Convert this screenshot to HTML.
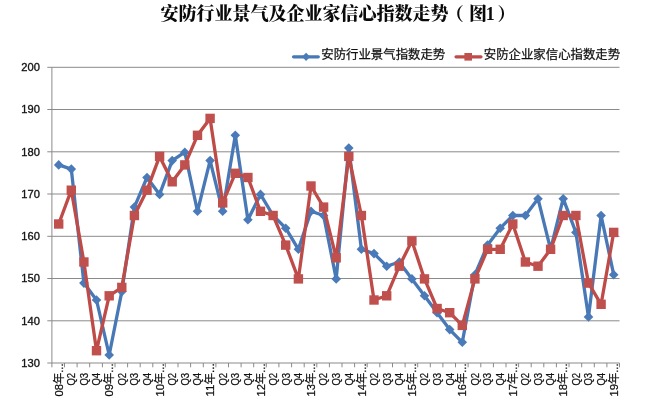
<!DOCTYPE html>
<html lang="zh"><head><meta charset="utf-8"><title>安防行业景气及企业家信心指数走势</title>
<style>
html,body{margin:0;padding:0;background:#fff;}
body{width:660px;height:411px;overflow:hidden;font-family:"Liberation Sans","Noto Sans CJK SC",sans-serif;}
svg{display:block}
.t{font-family:"Liberation Serif","Noto Serif CJK SC",serif;font-weight:900;font-size:18px;fill:#0a0a0a}
.lg{font-family:"Liberation Sans","Noto Sans CJK SC",sans-serif;font-size:12.4px;fill:#111;stroke:#111;stroke-width:0.25px}
.yl{font-family:"Liberation Sans",sans-serif;font-size:10.3px;fill:#111;stroke:#111;stroke-width:0.3px}
.xl{font-family:"Liberation Sans","Noto Sans CJK SC",sans-serif;font-size:11.5px;fill:#111;stroke:#111;stroke-width:0.25px}
</style></head><body>
<svg width="660" height="411" viewBox="0 0 660 411">
<rect width="660" height="411" fill="#fff"/>
<text class="t" x="160.6" y="19.7">安防行业景气及企业家信心指数走势<tspan dx="-2.8">（</tspan><tspan dx="5.1">图</tspan><tspan dx="-1.2">1</tspan><tspan dx="2.8">）</tspan></text>
<text class="yl" x="39.9" y="71.0" text-anchor="end" textLength="18.6" lengthAdjust="spacingAndGlyphs">200</text>
<text class="yl" x="39.9" y="113.2" text-anchor="end" textLength="18.6" lengthAdjust="spacingAndGlyphs">190</text>
<text class="yl" x="39.9" y="155.5" text-anchor="end" textLength="18.6" lengthAdjust="spacingAndGlyphs">180</text>
<text class="yl" x="39.9" y="197.7" text-anchor="end" textLength="18.6" lengthAdjust="spacingAndGlyphs">170</text>
<text class="yl" x="39.9" y="240.0" text-anchor="end" textLength="18.6" lengthAdjust="spacingAndGlyphs">160</text>
<text class="yl" x="39.9" y="282.2" text-anchor="end" textLength="18.6" lengthAdjust="spacingAndGlyphs">150</text>
<text class="yl" x="39.9" y="324.5" text-anchor="end" textLength="18.6" lengthAdjust="spacingAndGlyphs">140</text>
<text class="yl" x="39.9" y="366.7" text-anchor="end" textLength="18.6" lengthAdjust="spacingAndGlyphs">130</text>
<g stroke="#8a8a8a" stroke-width="1" fill="none"><line x1="47.3" y1="67.3" x2="619.5" y2="67.3"/><line x1="47.3" y1="109.5" x2="619.5" y2="109.5"/><line x1="47.3" y1="151.8" x2="619.5" y2="151.8"/><line x1="47.3" y1="194.0" x2="619.5" y2="194.0"/><line x1="47.3" y1="236.3" x2="619.5" y2="236.3"/><line x1="47.3" y1="278.5" x2="619.5" y2="278.5"/><line x1="47.3" y1="320.8" x2="619.5" y2="320.8"/><line x1="47.3" y1="363.0" x2="619.5" y2="363.0"/><line x1="51.9" y1="67.3" x2="51.9" y2="363.0"/><line x1="51.9" y1="363.0" x2="51.9" y2="367.3"/><line x1="64.5" y1="363.0" x2="64.5" y2="367.3"/><line x1="77.1" y1="363.0" x2="77.1" y2="367.3"/><line x1="89.7" y1="363.0" x2="89.7" y2="367.3"/><line x1="102.4" y1="363.0" x2="102.4" y2="367.3"/><line x1="115.0" y1="363.0" x2="115.0" y2="367.3"/><line x1="127.6" y1="363.0" x2="127.6" y2="367.3"/><line x1="140.2" y1="363.0" x2="140.2" y2="367.3"/><line x1="152.8" y1="363.0" x2="152.8" y2="367.3"/><line x1="165.4" y1="363.0" x2="165.4" y2="367.3"/><line x1="178.0" y1="363.0" x2="178.0" y2="367.3"/><line x1="190.6" y1="363.0" x2="190.6" y2="367.3"/><line x1="203.3" y1="363.0" x2="203.3" y2="367.3"/><line x1="215.9" y1="363.0" x2="215.9" y2="367.3"/><line x1="228.5" y1="363.0" x2="228.5" y2="367.3"/><line x1="241.1" y1="363.0" x2="241.1" y2="367.3"/><line x1="253.7" y1="363.0" x2="253.7" y2="367.3"/><line x1="266.3" y1="363.0" x2="266.3" y2="367.3"/><line x1="278.9" y1="363.0" x2="278.9" y2="367.3"/><line x1="291.6" y1="363.0" x2="291.6" y2="367.3"/><line x1="304.2" y1="363.0" x2="304.2" y2="367.3"/><line x1="316.8" y1="363.0" x2="316.8" y2="367.3"/><line x1="329.4" y1="363.0" x2="329.4" y2="367.3"/><line x1="342.0" y1="363.0" x2="342.0" y2="367.3"/><line x1="354.6" y1="363.0" x2="354.6" y2="367.3"/><line x1="367.2" y1="363.0" x2="367.2" y2="367.3"/><line x1="379.8" y1="363.0" x2="379.8" y2="367.3"/><line x1="392.5" y1="363.0" x2="392.5" y2="367.3"/><line x1="405.1" y1="363.0" x2="405.1" y2="367.3"/><line x1="417.7" y1="363.0" x2="417.7" y2="367.3"/><line x1="430.3" y1="363.0" x2="430.3" y2="367.3"/><line x1="442.9" y1="363.0" x2="442.9" y2="367.3"/><line x1="455.5" y1="363.0" x2="455.5" y2="367.3"/><line x1="468.1" y1="363.0" x2="468.1" y2="367.3"/><line x1="480.8" y1="363.0" x2="480.8" y2="367.3"/><line x1="493.4" y1="363.0" x2="493.4" y2="367.3"/><line x1="506.0" y1="363.0" x2="506.0" y2="367.3"/><line x1="518.6" y1="363.0" x2="518.6" y2="367.3"/><line x1="531.2" y1="363.0" x2="531.2" y2="367.3"/><line x1="543.8" y1="363.0" x2="543.8" y2="367.3"/><line x1="556.4" y1="363.0" x2="556.4" y2="367.3"/><line x1="569.0" y1="363.0" x2="569.0" y2="367.3"/><line x1="581.7" y1="363.0" x2="581.7" y2="367.3"/><line x1="594.3" y1="363.0" x2="594.3" y2="367.3"/><line x1="606.9" y1="363.0" x2="606.9" y2="367.3"/><line x1="619.5" y1="363.0" x2="619.5" y2="367.3"/></g>
<text class="xl" transform="translate(62.8,363.4) rotate(-90)" text-anchor="end" textLength="33.1" lengthAdjust="spacingAndGlyphs">08年...</text>
<text class="xl" transform="translate(75.1,372.8) rotate(-90)" text-anchor="end" textLength="12.8" lengthAdjust="spacingAndGlyphs">Q2</text>
<text class="xl" transform="translate(87.7,372.8) rotate(-90)" text-anchor="end" textLength="12.8" lengthAdjust="spacingAndGlyphs">Q3</text>
<text class="xl" transform="translate(100.3,372.8) rotate(-90)" text-anchor="end" textLength="12.8" lengthAdjust="spacingAndGlyphs">Q4</text>
<text class="xl" transform="translate(113.3,363.4) rotate(-90)" text-anchor="end" textLength="33.1" lengthAdjust="spacingAndGlyphs">09年...</text>
<text class="xl" transform="translate(125.6,372.8) rotate(-90)" text-anchor="end" textLength="12.8" lengthAdjust="spacingAndGlyphs">Q2</text>
<text class="xl" transform="translate(138.2,372.8) rotate(-90)" text-anchor="end" textLength="12.8" lengthAdjust="spacingAndGlyphs">Q3</text>
<text class="xl" transform="translate(150.8,372.8) rotate(-90)" text-anchor="end" textLength="12.8" lengthAdjust="spacingAndGlyphs">Q4</text>
<text class="xl" transform="translate(163.7,363.4) rotate(-90)" text-anchor="end" textLength="33.1" lengthAdjust="spacingAndGlyphs">10年...</text>
<text class="xl" transform="translate(176.0,372.8) rotate(-90)" text-anchor="end" textLength="12.8" lengthAdjust="spacingAndGlyphs">Q2</text>
<text class="xl" transform="translate(188.6,372.8) rotate(-90)" text-anchor="end" textLength="12.8" lengthAdjust="spacingAndGlyphs">Q3</text>
<text class="xl" transform="translate(201.3,372.8) rotate(-90)" text-anchor="end" textLength="12.8" lengthAdjust="spacingAndGlyphs">Q4</text>
<text class="xl" transform="translate(214.2,363.4) rotate(-90)" text-anchor="end" textLength="33.1" lengthAdjust="spacingAndGlyphs">11年...</text>
<text class="xl" transform="translate(226.5,372.8) rotate(-90)" text-anchor="end" textLength="12.8" lengthAdjust="spacingAndGlyphs">Q2</text>
<text class="xl" transform="translate(239.1,372.8) rotate(-90)" text-anchor="end" textLength="12.8" lengthAdjust="spacingAndGlyphs">Q3</text>
<text class="xl" transform="translate(251.7,372.8) rotate(-90)" text-anchor="end" textLength="12.8" lengthAdjust="spacingAndGlyphs">Q4</text>
<text class="xl" transform="translate(264.6,363.4) rotate(-90)" text-anchor="end" textLength="33.1" lengthAdjust="spacingAndGlyphs">12年...</text>
<text class="xl" transform="translate(276.9,372.8) rotate(-90)" text-anchor="end" textLength="12.8" lengthAdjust="spacingAndGlyphs">Q2</text>
<text class="xl" transform="translate(289.5,372.8) rotate(-90)" text-anchor="end" textLength="12.8" lengthAdjust="spacingAndGlyphs">Q3</text>
<text class="xl" transform="translate(302.2,372.8) rotate(-90)" text-anchor="end" textLength="12.8" lengthAdjust="spacingAndGlyphs">Q4</text>
<text class="xl" transform="translate(315.1,363.4) rotate(-90)" text-anchor="end" textLength="33.1" lengthAdjust="spacingAndGlyphs">13年...</text>
<text class="xl" transform="translate(327.4,372.8) rotate(-90)" text-anchor="end" textLength="12.8" lengthAdjust="spacingAndGlyphs">Q2</text>
<text class="xl" transform="translate(340.0,372.8) rotate(-90)" text-anchor="end" textLength="12.8" lengthAdjust="spacingAndGlyphs">Q3</text>
<text class="xl" transform="translate(352.6,372.8) rotate(-90)" text-anchor="end" textLength="12.8" lengthAdjust="spacingAndGlyphs">Q4</text>
<text class="xl" transform="translate(365.5,363.4) rotate(-90)" text-anchor="end" textLength="33.1" lengthAdjust="spacingAndGlyphs">14年...</text>
<text class="xl" transform="translate(377.8,372.8) rotate(-90)" text-anchor="end" textLength="12.8" lengthAdjust="spacingAndGlyphs">Q2</text>
<text class="xl" transform="translate(390.5,372.8) rotate(-90)" text-anchor="end" textLength="12.8" lengthAdjust="spacingAndGlyphs">Q3</text>
<text class="xl" transform="translate(403.1,372.8) rotate(-90)" text-anchor="end" textLength="12.8" lengthAdjust="spacingAndGlyphs">Q4</text>
<text class="xl" transform="translate(416.0,363.4) rotate(-90)" text-anchor="end" textLength="33.1" lengthAdjust="spacingAndGlyphs">15年...</text>
<text class="xl" transform="translate(428.3,372.8) rotate(-90)" text-anchor="end" textLength="12.8" lengthAdjust="spacingAndGlyphs">Q2</text>
<text class="xl" transform="translate(440.9,372.8) rotate(-90)" text-anchor="end" textLength="12.8" lengthAdjust="spacingAndGlyphs">Q3</text>
<text class="xl" transform="translate(453.5,372.8) rotate(-90)" text-anchor="end" textLength="12.8" lengthAdjust="spacingAndGlyphs">Q4</text>
<text class="xl" transform="translate(466.4,363.4) rotate(-90)" text-anchor="end" textLength="33.1" lengthAdjust="spacingAndGlyphs">16年...</text>
<text class="xl" transform="translate(478.7,372.8) rotate(-90)" text-anchor="end" textLength="12.8" lengthAdjust="spacingAndGlyphs">Q2</text>
<text class="xl" transform="translate(491.4,372.8) rotate(-90)" text-anchor="end" textLength="12.8" lengthAdjust="spacingAndGlyphs">Q3</text>
<text class="xl" transform="translate(504.0,372.8) rotate(-90)" text-anchor="end" textLength="12.8" lengthAdjust="spacingAndGlyphs">Q4</text>
<text class="xl" transform="translate(516.9,363.4) rotate(-90)" text-anchor="end" textLength="33.1" lengthAdjust="spacingAndGlyphs">17年...</text>
<text class="xl" transform="translate(529.2,372.8) rotate(-90)" text-anchor="end" textLength="12.8" lengthAdjust="spacingAndGlyphs">Q2</text>
<text class="xl" transform="translate(541.8,372.8) rotate(-90)" text-anchor="end" textLength="12.8" lengthAdjust="spacingAndGlyphs">Q3</text>
<text class="xl" transform="translate(554.4,372.8) rotate(-90)" text-anchor="end" textLength="12.8" lengthAdjust="spacingAndGlyphs">Q4</text>
<text class="xl" transform="translate(567.3,363.4) rotate(-90)" text-anchor="end" textLength="33.1" lengthAdjust="spacingAndGlyphs">18年...</text>
<text class="xl" transform="translate(579.7,372.8) rotate(-90)" text-anchor="end" textLength="12.8" lengthAdjust="spacingAndGlyphs">Q2</text>
<text class="xl" transform="translate(592.3,372.8) rotate(-90)" text-anchor="end" textLength="12.8" lengthAdjust="spacingAndGlyphs">Q3</text>
<text class="xl" transform="translate(604.9,372.8) rotate(-90)" text-anchor="end" textLength="12.8" lengthAdjust="spacingAndGlyphs">Q4</text>
<text class="xl" transform="translate(617.8,363.4) rotate(-90)" text-anchor="end" textLength="33.1" lengthAdjust="spacingAndGlyphs">19年...</text>
<polyline points="58.7,164.9 71.3,169.1 83.9,283.1 96.5,300.0 109.2,355.0 121.8,291.6 134.4,207.1 147.0,177.5 159.6,194.4 172.2,160.6 184.8,152.2 197.5,211.3 210.1,160.6 222.7,211.3 235.3,135.3 247.9,219.8 260.5,194.4 273.1,215.5 285.7,228.2 298.4,249.3 311.0,211.3 323.6,215.5 336.2,278.9 348.8,148.0 361.4,249.3 374.0,253.6 386.7,266.2 399.3,262.0 411.9,278.9 424.5,295.8 437.1,312.7 449.7,329.6 462.3,342.3 474.9,274.7 487.6,245.1 500.2,228.2 512.8,215.5 525.4,215.5 538.0,198.7 550.6,249.3 563.2,198.7 575.9,232.4 588.5,316.9 601.1,215.5 613.7,274.7" fill="none" stroke="#4878b5" stroke-width="3.3" stroke-linejoin="round" stroke-linecap="round"/>
<g fill="#4a7ab8"><path d="M58.7 160.1l4.8 4.8l-4.8 4.8l-4.8 -4.8z"/><path d="M71.3 164.3l4.8 4.8l-4.8 4.8l-4.8 -4.8z"/><path d="M83.9 278.3l4.8 4.8l-4.8 4.8l-4.8 -4.8z"/><path d="M96.5 295.2l4.8 4.8l-4.8 4.8l-4.8 -4.8z"/><path d="M109.2 350.2l4.8 4.8l-4.8 4.8l-4.8 -4.8z"/><path d="M121.8 286.8l4.8 4.8l-4.8 4.8l-4.8 -4.8z"/><path d="M134.4 202.3l4.8 4.8l-4.8 4.8l-4.8 -4.8z"/><path d="M147.0 172.7l4.8 4.8l-4.8 4.8l-4.8 -4.8z"/><path d="M159.6 189.6l4.8 4.8l-4.8 4.8l-4.8 -4.8z"/><path d="M172.2 155.8l4.8 4.8l-4.8 4.8l-4.8 -4.8z"/><path d="M184.8 147.4l4.8 4.8l-4.8 4.8l-4.8 -4.8z"/><path d="M197.5 206.5l4.8 4.8l-4.8 4.8l-4.8 -4.8z"/><path d="M210.1 155.8l4.8 4.8l-4.8 4.8l-4.8 -4.8z"/><path d="M222.7 206.5l4.8 4.8l-4.8 4.8l-4.8 -4.8z"/><path d="M235.3 130.5l4.8 4.8l-4.8 4.8l-4.8 -4.8z"/><path d="M247.9 215.0l4.8 4.8l-4.8 4.8l-4.8 -4.8z"/><path d="M260.5 189.6l4.8 4.8l-4.8 4.8l-4.8 -4.8z"/><path d="M273.1 210.7l4.8 4.8l-4.8 4.8l-4.8 -4.8z"/><path d="M285.7 223.4l4.8 4.8l-4.8 4.8l-4.8 -4.8z"/><path d="M298.4 244.5l4.8 4.8l-4.8 4.8l-4.8 -4.8z"/><path d="M311.0 206.5l4.8 4.8l-4.8 4.8l-4.8 -4.8z"/><path d="M323.6 210.7l4.8 4.8l-4.8 4.8l-4.8 -4.8z"/><path d="M336.2 274.1l4.8 4.8l-4.8 4.8l-4.8 -4.8z"/><path d="M348.8 143.2l4.8 4.8l-4.8 4.8l-4.8 -4.8z"/><path d="M361.4 244.5l4.8 4.8l-4.8 4.8l-4.8 -4.8z"/><path d="M374.0 248.8l4.8 4.8l-4.8 4.8l-4.8 -4.8z"/><path d="M386.7 261.4l4.8 4.8l-4.8 4.8l-4.8 -4.8z"/><path d="M399.3 257.2l4.8 4.8l-4.8 4.8l-4.8 -4.8z"/><path d="M411.9 274.1l4.8 4.8l-4.8 4.8l-4.8 -4.8z"/><path d="M424.5 291.0l4.8 4.8l-4.8 4.8l-4.8 -4.8z"/><path d="M437.1 307.9l4.8 4.8l-4.8 4.8l-4.8 -4.8z"/><path d="M449.7 324.8l4.8 4.8l-4.8 4.8l-4.8 -4.8z"/><path d="M462.3 337.5l4.8 4.8l-4.8 4.8l-4.8 -4.8z"/><path d="M474.9 269.9l4.8 4.8l-4.8 4.8l-4.8 -4.8z"/><path d="M487.6 240.3l4.8 4.8l-4.8 4.8l-4.8 -4.8z"/><path d="M500.2 223.4l4.8 4.8l-4.8 4.8l-4.8 -4.8z"/><path d="M512.8 210.7l4.8 4.8l-4.8 4.8l-4.8 -4.8z"/><path d="M525.4 210.7l4.8 4.8l-4.8 4.8l-4.8 -4.8z"/><path d="M538.0 193.9l4.8 4.8l-4.8 4.8l-4.8 -4.8z"/><path d="M550.6 244.5l4.8 4.8l-4.8 4.8l-4.8 -4.8z"/><path d="M563.2 193.9l4.8 4.8l-4.8 4.8l-4.8 -4.8z"/><path d="M575.9 227.6l4.8 4.8l-4.8 4.8l-4.8 -4.8z"/><path d="M588.5 312.1l4.8 4.8l-4.8 4.8l-4.8 -4.8z"/><path d="M601.1 210.7l4.8 4.8l-4.8 4.8l-4.8 -4.8z"/><path d="M613.7 269.9l4.8 4.8l-4.8 4.8l-4.8 -4.8z"/></g>
<polyline points="58.7,224.0 71.3,190.2 83.9,262.0 96.5,350.7 109.2,295.8 121.8,287.4 134.4,215.5 147.0,190.2 159.6,156.4 172.2,181.8 184.8,164.9 197.5,135.3 210.1,118.4 222.7,202.9 235.3,173.3 247.9,177.5 260.5,211.3 273.1,215.5 285.7,245.1 298.4,278.9 311.0,186.0 323.6,207.1 336.2,257.8 348.8,156.4 361.4,215.5 374.0,300.0 386.7,295.8 399.3,266.2 411.9,240.9 424.5,278.9 437.1,308.5 449.7,312.7 462.3,325.4 474.9,278.9 487.6,249.3 500.2,249.3 512.8,224.0 525.4,262.0 538.0,266.2 550.6,249.3 563.2,215.5 575.9,215.5 588.5,283.1 601.1,304.3 613.7,232.4" fill="none" stroke="#be4b48" stroke-width="3.3" stroke-linejoin="round" stroke-linecap="round"/>
<g fill="#c0504d"><rect x="54.0" y="219.3" width="9.4" height="9.4"/><rect x="66.6" y="185.5" width="9.4" height="9.4"/><rect x="79.2" y="257.3" width="9.4" height="9.4"/><rect x="91.8" y="346.0" width="9.4" height="9.4"/><rect x="104.5" y="291.1" width="9.4" height="9.4"/><rect x="117.1" y="282.7" width="9.4" height="9.4"/><rect x="129.7" y="210.8" width="9.4" height="9.4"/><rect x="142.3" y="185.5" width="9.4" height="9.4"/><rect x="154.9" y="151.7" width="9.4" height="9.4"/><rect x="167.5" y="177.1" width="9.4" height="9.4"/><rect x="180.1" y="160.2" width="9.4" height="9.4"/><rect x="192.8" y="130.6" width="9.4" height="9.4"/><rect x="205.4" y="113.7" width="9.4" height="9.4"/><rect x="218.0" y="198.2" width="9.4" height="9.4"/><rect x="230.6" y="168.6" width="9.4" height="9.4"/><rect x="243.2" y="172.8" width="9.4" height="9.4"/><rect x="255.8" y="206.6" width="9.4" height="9.4"/><rect x="268.4" y="210.8" width="9.4" height="9.4"/><rect x="281.0" y="240.4" width="9.4" height="9.4"/><rect x="293.7" y="274.2" width="9.4" height="9.4"/><rect x="306.3" y="181.3" width="9.4" height="9.4"/><rect x="318.9" y="202.4" width="9.4" height="9.4"/><rect x="331.5" y="253.1" width="9.4" height="9.4"/><rect x="344.1" y="151.7" width="9.4" height="9.4"/><rect x="356.7" y="210.8" width="9.4" height="9.4"/><rect x="369.3" y="295.3" width="9.4" height="9.4"/><rect x="382.0" y="291.1" width="9.4" height="9.4"/><rect x="394.6" y="261.5" width="9.4" height="9.4"/><rect x="407.2" y="236.2" width="9.4" height="9.4"/><rect x="419.8" y="274.2" width="9.4" height="9.4"/><rect x="432.4" y="303.8" width="9.4" height="9.4"/><rect x="445.0" y="308.0" width="9.4" height="9.4"/><rect x="457.6" y="320.7" width="9.4" height="9.4"/><rect x="470.2" y="274.2" width="9.4" height="9.4"/><rect x="482.9" y="244.6" width="9.4" height="9.4"/><rect x="495.5" y="244.6" width="9.4" height="9.4"/><rect x="508.1" y="219.3" width="9.4" height="9.4"/><rect x="520.7" y="257.3" width="9.4" height="9.4"/><rect x="533.3" y="261.5" width="9.4" height="9.4"/><rect x="545.9" y="244.6" width="9.4" height="9.4"/><rect x="558.5" y="210.8" width="9.4" height="9.4"/><rect x="571.2" y="210.8" width="9.4" height="9.4"/><rect x="583.8" y="278.4" width="9.4" height="9.4"/><rect x="596.4" y="299.6" width="9.4" height="9.4"/><rect x="609.0" y="227.7" width="9.4" height="9.4"/></g>
<line x1="293.5" y1="56.8" x2="318.3" y2="56.8" stroke="#4878b5" stroke-width="3.2" stroke-linecap="round"/><path d="M306.1 52.699999999999996l4.1 4.1l-4.1 4.1l-4.1 -4.1z" fill="#4a7ab8"/><text class="lg" x="321.3" y="58.8">安防行业景气指数走势</text>
<line x1="456" y1="56.8" x2="481" y2="56.8" stroke="#be4b48" stroke-width="3.2" stroke-linecap="round"/><rect x="464.4" y="53.0" width="7.6" height="7.6" fill="#c0504d"/><text class="lg" x="483.8" y="58.8">安防企业家信心指数走势</text>
</svg></body></html>
